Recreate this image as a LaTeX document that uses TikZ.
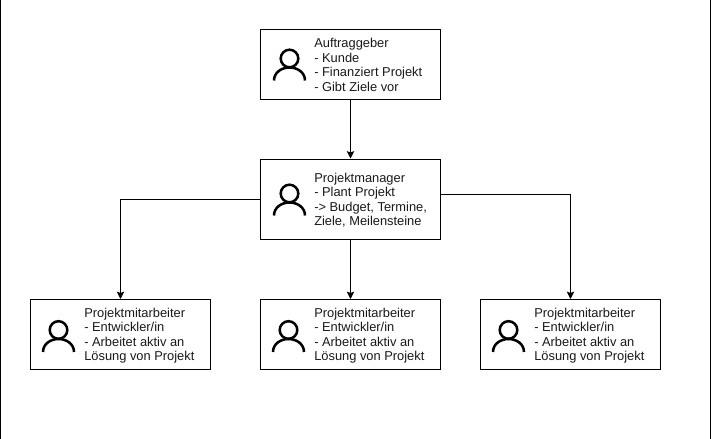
\documentclass[tikz,border=0pt]{standalone}
\usepackage{fontspec}
\setmainfont{Liberation Sans}
\usetikzlibrary{
		positioning,
		arrows.meta
	}
\tikzset{
		>={Stealth[length=5.5pt,width=5.5pt,inset=1pt]},
		rolebox/.style={draw,line width=.75pt,minimum width=135pt,inner sep=0pt},
		roletext/.style={align=left,inner sep=0pt,yshift=-.75pt,font=\fontsize{9.65pt}{10.85pt}\selectfont,text=black!90},
		pics/person/.style={code={
			\draw[line width=1.9pt] (0,0) circle (8.8 and 8.8);
			\draw[line width=1.9pt,line cap=butt] (-15.5,22) .. controls (-15.5,14) and (-8,9) .. (0,9) .. controls (8,9) and (15.5,14) .. (15.5,22);
		}}
	}
\begin{document}
\begin{tikzpicture}[x=.75pt, y=-.75pt] % (each unit = 1 pixel of the reference)
		\useasboundingbox (0,0) rectangle (711,439);
		\coordinate (frameTL) at (.5,0); \coordinate (frameBL) at (.5,439);
		\coordinate (frameTR) at (710.5,0); \coordinate (frameBR) at (710.5,439);
		\draw[line width=.75pt] (frameTL) -- (frameBL) (frameTR) -- (frameBR);
		% the boxes
		\node[rolebox,minimum height=52.5pt] (kunde) at (350.5,64) {};
		\node[rolebox,minimum height=60pt] (manager) at (350.5,199) {};
		\node[rolebox,minimum height=52.5pt] (team1) at (120.5,334.5) {};
		\node[rolebox,minimum height=52.5pt] (team2) at (350.5,334.5) {};
		\node[rolebox,minimum height=52.5pt] (team3) at (570.5,334.5) {};
		% icons and texts
		\path (289.5,58.5) pic{person};
		\path (289.5,193.5) pic{person};
		\foreach \xpos in {58.5,288.5,508.5}{
			\path (\xpos,330) pic{person};
		}
		\node[roletext,right=40.5pt of kunde.west,anchor=west] (kundeText) {Auftraggeber\\- Kunde\\- Finanziert Projekt\\- Gibt Ziele vor};
		\node[roletext,right=40.5pt of manager.west,anchor=west] (managerText) {Projektmanager\\- Plant Projekt\\-> Budget, Termine,\\Ziele, Meilensteine};
		\foreach \t in {team1,team2,team3}{
			\node[roletext,right=40.5pt of \t.west,anchor=west] (\t Text) {Projektmitarbeiter\\- Entwickler/in\\- Arbeitet aktiv an\\Lösung von Projekt};
		}
		% the connectors
		\coordinate (managerRight) at (440.5,194.5);
		\draw[->,line width=.75pt] (kunde) -- (manager);
		\draw[->,line width=.75pt] (manager.west) -| (team1.north);
		\draw[->,line width=.75pt] (manager) -- (team2);
		\draw[->,line width=.75pt] (managerRight) -| (team3.north);
	\end{tikzpicture}
\end{document}
